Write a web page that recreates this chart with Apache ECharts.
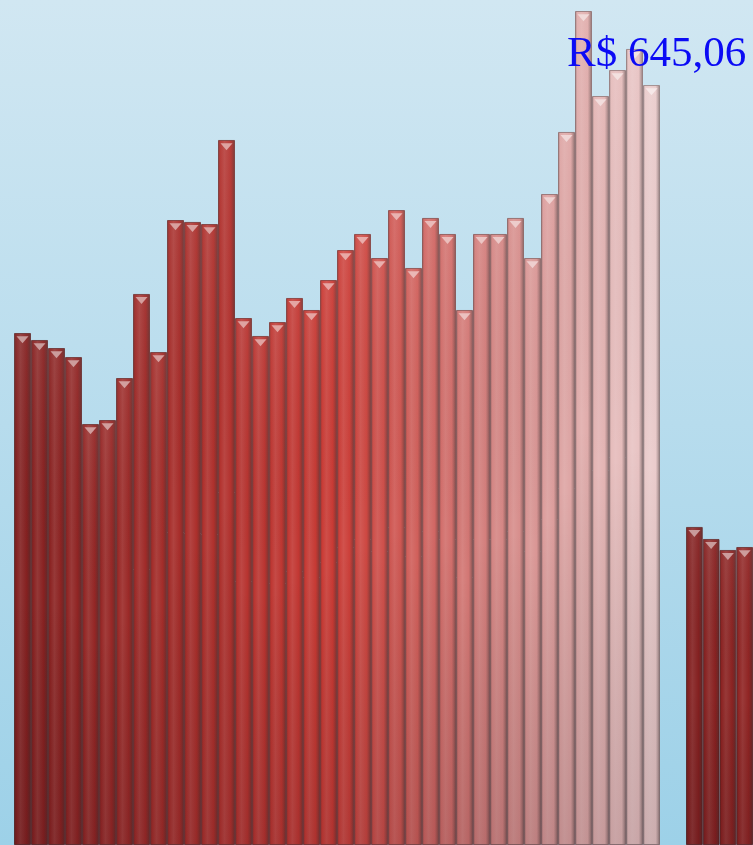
<!DOCTYPE html>
<html>
<head>
<meta charset="utf-8">
<script src="https://cdn.jsdelivr.net/npm/echarts@6/dist/echarts.min.js"></script>
<style>
html,body{margin:0;padding:0;}
#chart{width:753px;height:845px;}
</style>
</head>
<body>
<div id="chart"></div>
<script>
// Data (R$ values)
const categoriesA = Array.from({length: 38}, (_, i) => String(i + 1));
const valuesA = [396.0, 390.6, 384.4, 377.4, 325.6, 328.7, 361.2, 426.2, 381.3, 483.4,
                 481.9, 480.3, 545.3, 407.6, 393.7, 404.5, 423.1, 413.8, 437.0, 460.2,
                 472.6, 454.0, 491.1, 446.3, 485.0, 472.6, 413.8, 472.6, 472.6, 485.0,
                 454.0, 503.5, 551.5, 645.06, 579.3, 599.4, 615.7, 587.8];
const categoriesB = ['39', '40', '41', '42'];
const valuesB = [246.0, 236.7, 228.2, 230.5];

function hex2rgb(h){h=h.replace('#','');return [parseInt(h.slice(0,2),16),parseInt(h.slice(2,4),16),parseInt(h.slice(4,6),16)];}
function rgb2str(c,a){return a===undefined?'rgb('+c.map(Math.round).join(',')+')':'rgba('+c.map(Math.round).join(',')+','+a+')';}
function mix(a,b,t){return a.map((v,i)=>v+(b[i]-v)*t);}
const stops = [[0,'#842020'],[0.5,'#cc3b35'],[0.75,'#d48482'],[1,'#eacbcb']].map(s=>[s[0],hex2rgb(s[1])]);
function baseAt(t){
  for(let k=1;k<stops.length;k++){
    if(t<=stops[k][0]){const a=stops[k-1],b=stops[k];return mix(a[1],b[1],(t-a[0])/(b[0]-a[0]));}
  }
  return stops[stops.length-1][1];
}
function barStyle(i,n){
  const c = baseAt(i/(n-1));
  const dark = mix(c,[60,50,50],0.5);
  const light = mix(c,[255,255,255],0.1);
  return {
    color: {type:'linear',x:0,y:0,x2:1,y2:0,colorStops:[
      {offset:0,color:rgb2str(dark)},
      {offset:0.12,color:rgb2str(c)},
      {offset:0.38,color:rgb2str(light)},
      {offset:0.75,color:rgb2str(c)},
      {offset:0.9,color:rgb2str(mix(c,[60,50,50],0.3))},
      {offset:1,color:rgb2str(mix(c,[60,50,50],0.65))}
    ]},
    borderColor: rgb2str(mix(c,[50,30,30],0.5),0.8),
    borderWidth: 1
  };
}
function capColor(i,n){
  const c = baseAt(i/(n-1));
  return rgb2str(mix(c,[255,255,255],0.55));
}
const n = valuesA.length;
const maxVal = Math.max(...valuesA, ...valuesB);
const maxIdx = valuesA.indexOf(Math.max(...valuesA));

function makeSeries(vals, axisIdx){
  const arr = [];
  arr.push({
    type:'bar', xAxisIndex:axisIdx, yAxisIndex:axisIdx, barWidth:'100%', barGap:'-100%',
    data: vals.map((v,i)=>({value:v,itemStyle:barStyle(i,n)})), z:2, silent:true
  });
  arr.push({
    type:'bar', xAxisIndex:axisIdx, yAxisIndex:axisIdx, barWidth:'100%', barGap:'-100%',
    data: vals.slice(), z:3, silent:true,
    itemStyle:{color:{type:'linear',x:0,y:0,x2:0,y2:1,colorStops:[
      {offset:0,color:'rgba(255,255,255,0.06)'},{offset:0.5,color:'rgba(0,0,0,0)'},{offset:1,color:'rgba(40,10,20,0.16)'}]}}
  });
  arr.push({
    type:'pictorialBar', xAxisIndex:axisIdx, yAxisIndex:axisIdx,
    symbol:'path://M0,0 L12,0 L6,7 Z', symbolSize:[12,7], symbolPosition:'end', symbolOffset:[0,'45%'],
    data: vals.map((v,i)=>({value:v,itemStyle:{color:capColor(i,n)}})), z:4, silent:true
  });
  return arr;
}
const series = [...makeSeries(valuesA,0), ...makeSeries(valuesB,1)];
series.push({
  type:'bar', xAxisIndex:0, yAxisIndex:0, barWidth:'100%', barGap:'-100%', z:10, silent:true,
  itemStyle:{color:'rgba(0,0,0,0)'},
  data: valuesA.map((v,i)=> i===maxIdx ? v : '-'),
  label:{show:true, position:[-8,44], align:'left', verticalAlign:'middle',
    fontFamily:'"Liberation Serif", "Times New Roman", serif', fontSize:43, color:'#0b0bf5',
    formatter: p => 'R$ ' + p.value.toFixed(2).replace('.', ',')}
});

const chart = echarts.init(document.getElementById('chart'), null, {renderer:'canvas'});
chart.setOption({
  animation:false,
  backgroundColor:{type:'linear',x:0,y:0,x2:0,y2:1,colorStops:[
    {offset:0,color:'#d1e7f2'},{offset:1,color:'#9dd1e8'}]},
  grid:[
    {left:14, top:11, width:646, bottom:0},
    {left:686, top:11, width:68, bottom:0}
  ],
  xAxis:[
    {type:'category', gridIndex:0, data:categoriesA, show:false},
    {type:'category', gridIndex:1, data:categoriesB, show:false}
  ],
  yAxis:[
    {type:'value', gridIndex:0, min:0, max:maxVal, show:false},
    {type:'value', gridIndex:1, min:0, max:maxVal, show:false}
  ],
  series: series
});
</script>
</body>
</html>
